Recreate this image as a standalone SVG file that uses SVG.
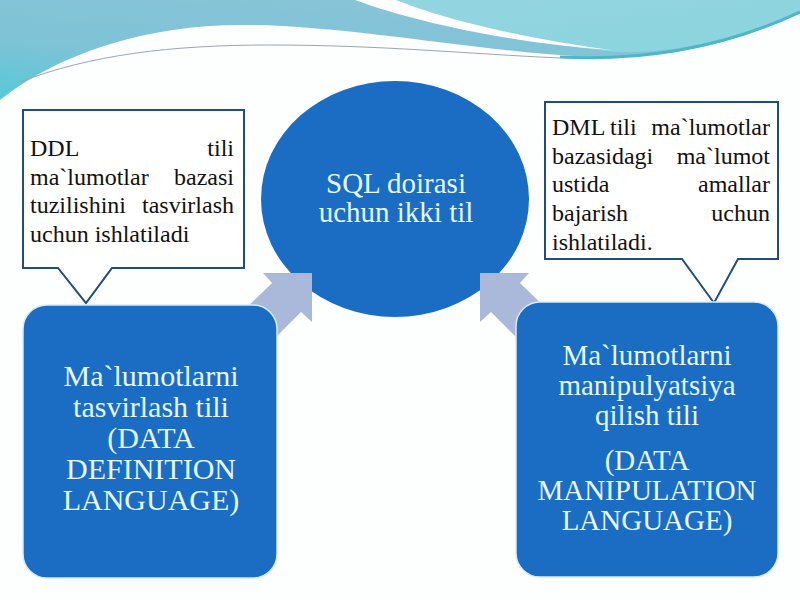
<svg xmlns="http://www.w3.org/2000/svg" width="800" height="600" viewBox="0 0 800 600">
<defs>
<linearGradient id="tealGrad" x1="0" y1="1" x2="0.6" y2="0">
<stop offset="0" stop-color="#55C9D6"/>
<stop offset="0.45" stop-color="#7FC3D6"/>
<stop offset="1" stop-color="#88C4D8"/>
</linearGradient>
<linearGradient id="lightGrad" x1="0" y1="0" x2="1" y2="1">
<stop offset="0" stop-color="#93D5E0"/>
<stop offset="1" stop-color="#8AD4DE"/>
</linearGradient>
<style>
.callout{fill:#FFFFFF;stroke:#1F4E79;stroke-width:2}
.ctext{font-size:24px;fill:#111111}
.box{fill:#1B6DC4;stroke:#D6ECF8;stroke-width:1.5}
.btext{fill:#E6F7FC;text-anchor:middle}
.arrow{fill:#AAB8DA}
</style>
</defs>
<rect width="800" height="600" fill="#FDFEFE"/>
<g id="background">
<path d="M0,0 H800 V12 C760,32 690,60 590,57 C480,52 340,24 240,25 C150,25 60,52 0,100 Z" fill="url(#tealGrad)"/>
<path d="M392,0 H800 V10 C760,30 690,54 620,52 C540,46 450,22 392,0 Z" fill="url(#lightGrad)"/>
<path d="M355,0 C420,24 520,44 612,50 C520,38 440,18 396,0 Z" fill="#FFFFFF"/>
<path d="M560,57 C660,62 740,40 800,12" fill="none" stroke="#4DB7C7" stroke-width="3"/>
<path d="M20,82 C90,55 170,45 270,45 C380,45 470,54 560,58" fill="none" stroke="#9AA6AE" stroke-width="1"/>
</g>
<g id="sql-circle">
<ellipse cx="395" cy="199" rx="134" ry="118" fill="#1B6DC4"/>
<text class="btext" font-family="'Liberation Serif','Times New Roman',serif" x="396" y="193" font-size="29" fill="#F2FAFF">SQL doirasi</text>
<text class="btext" font-family="'Liberation Serif','Times New Roman',serif" x="396" y="222" font-size="29" fill="#F2FAFF">uchun ikki til</text>
</g>
<g id="connectors">
<polygon class="arrow" points="263,273 312,273 312,322 301,312 270,343 240,314 272,283"/>
<polygon class="arrow" points="529,273 480,273 480,322 491,312 522,343 552,314 520,283"/>
</g>
<g id="ddl-callout" font-family="'Liberation Serif','Times New Roman',serif">
<path class="callout" d="M23,110 H244 V268 H112 L86,303 L58,268 H23 Z"/>
<text class="ctext" x="30" y="156">DDL</text>
<text class="ctext" x="234" y="156" text-anchor="end">tili</text>
<text class="ctext" x="30" y="185">ma`lumotlar</text>
<text class="ctext" x="234" y="185" text-anchor="end">bazasi</text>
<text class="ctext" x="30" y="213">tuzilishini</text>
<text class="ctext" x="234" y="213" text-anchor="end">tasvirlash</text>
<text class="ctext" x="30" y="242">uchun ishlatiladi</text>
</g>
<g id="dml-callout" font-family="'Liberation Serif','Times New Roman',serif">
<path class="callout" d="M545,102 H778 V259 H738 L714,303 L682,259 H545 Z"/>
<text class="ctext" x="552" y="135">DML</text>
<text class="ctext" x="610" y="135">tili</text>
<text class="ctext" x="770" y="135" text-anchor="end">ma`lumotlar</text>
<text class="ctext" x="552" y="164">bazasidagi</text>
<text class="ctext" x="770" y="164" text-anchor="end">ma`lumot</text>
<text class="ctext" x="552" y="192">ustida</text>
<text class="ctext" x="770" y="192" text-anchor="end">amallar</text>
<text class="ctext" x="552" y="221">bajarish</text>
<text class="ctext" x="770" y="221" text-anchor="end">uchun</text>
<text class="ctext" x="552" y="250">ishlatiladi.</text>
</g>
<g id="ddl-box" font-family="'Liberation Serif','Times New Roman',serif">
<rect class="box" x="23" y="305" width="254" height="273" rx="24"/>
<text class="btext" x="151" y="386" font-size="30">Ma`lumotlarni</text>
<text class="btext" x="151" y="417" font-size="30">tasvirlash tili</text>
<text class="btext" x="151" y="448" font-size="30">(DATA</text>
<text class="btext" x="151" y="479" font-size="30">DEFINITION</text>
<text class="btext" x="151" y="510" font-size="30">LANGUAGE)</text>
</g>
<g id="dml-box" font-family="'Liberation Serif','Times New Roman',serif">
<rect class="box" x="516" y="302" width="262" height="275" rx="24"/>
<text class="btext" x="647" y="365" font-size="29">Ma`lumotlarni</text>
<text class="btext" x="647" y="395" font-size="29">manipulyatsiya</text>
<text class="btext" x="647" y="425" font-size="29">qilish tili</text>
<text class="btext" x="647" y="470" font-size="29">(DATA</text>
<text class="btext" x="647" y="500" font-size="29">MANIPULATION</text>
<text class="btext" x="647" y="530" font-size="29">LANGUAGE)</text>
</g>
</svg>
